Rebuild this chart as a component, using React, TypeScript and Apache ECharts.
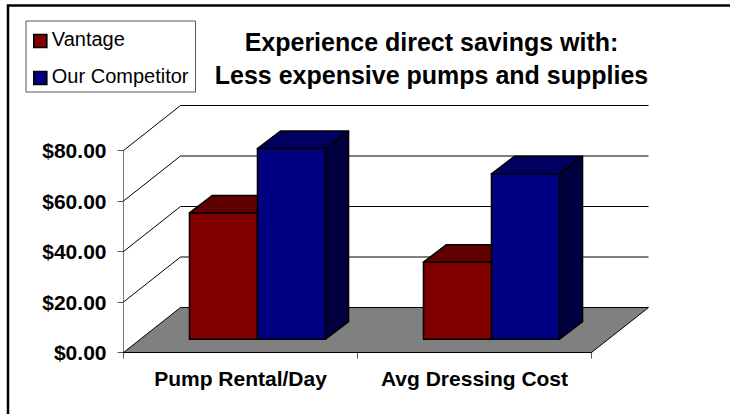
import React, { useEffect, useRef } from "react";
import * as echarts from "echarts";

const categories = ["Pump Rental/Day", "Avg Dressing Cost"];
const vantage = [50, 30.5];
const competitor = [75.5, 65.5];
const ticks = [0, 20, 40, 60, 80];
const titleLines = "Experience direct savings with:\nLess expensive pumps and supplies";

const WALL_DX = 57, WALL_DY = 45;
const BAR_OFF_DX = 17, BAR_OFF_DY = 13.3;
const BAR_DX = 23, BAR_DY = 17.5;
const BAR_W = 68;

function bar(seriesIndex: number, front: string, top: string, side: string) {
  return (params: any, api: any) => {
    const c = api.value(0);
    const v = api.value(1);
    const base = api.coord([c, 0]);
    const head = api.coord([c, v]);
    const x0 = base[0] + BAR_OFF_DX + (seriesIndex === 0 ? -BAR_W : 0);
    const x1 = x0 + BAR_W;
    const yb = base[1] - BAR_OFF_DY;
    const yt = head[1] - BAR_OFF_DY;
    const stroke = { stroke: "#000", lineWidth: 1.6, lineJoin: "round" };
    return {
      type: "group",
      children: [
        { type: "polygon", shape: { points: [[x0, yt], [x1, yt], [x1 + BAR_DX, yt - BAR_DY], [x0 + BAR_DX, yt - BAR_DY]] }, style: { fill: top, ...stroke } },
        { type: "polygon", shape: { points: [[x1, yt], [x1 + BAR_DX, yt - BAR_DY], [x1 + BAR_DX, yb - BAR_DY], [x1, yb]] }, style: { fill: side, ...stroke } },
        { type: "rect", shape: { x: x0, y: yt, width: BAR_W, height: yb - yt }, style: { fill: front, ...stroke } },
      ],
    };
  };
}

export default function App() {
  const ref = useRef<HTMLDivElement>(null);
  useEffect(() => {
    const chart = echarts.init(ref.current!, null, { renderer: "svg" });
    chart.setOption({
      animation: false,
      backgroundColor: "#fff",
      title: {
        text: titleLines,
        left: 426.5,
        top: 21,
        textAlign: "center",
        textStyle: { fontFamily: "Liberation Sans", fontWeight: "bold", fontSize: 25, lineHeight: 32.5, color: "#000" },
      },
      legend: {
        left: 26,
        top: 21,
        orient: "vertical",
        padding: [8, 7, 6, 7],
        itemGap: 17,
        itemWidth: 13,
        itemHeight: 13,
        backgroundColor: "#fff",
        borderColor: "#555",
        borderWidth: 1,
        borderRadius: 0,
        formatter: "{t|{name}}",
        textStyle: {
          fontFamily: "Liberation Sans",
          fontSize: 20,
          color: "#000",
          rich: { t: { fontFamily: "Liberation Sans", fontSize: 20, color: "#000", padding: [0, 0, 4, 0] } },
        },
        data: [
          { name: "Vantage", icon: "rect", itemStyle: { color: "#800000", borderColor: "#000", borderWidth: 1.6 } },
          { name: "Our Competitor", icon: "rect", itemStyle: { color: "#000080", borderColor: "#000", borderWidth: 1.6 } },
        ],
      },
      grid: { left: 123.5, top: 150.5, width: 468, height: 202 },
      xAxis: {
        type: "category",
        data: categories,
        axisTick: { show: true, alignWithLabel: false, length: 6, lineStyle: { color: "#555" } },
        axisLine: { lineStyle: { color: "#222", width: 1 } },
        axisLabel: { interval: 0, hideOverlap: false, fontFamily: "Liberation Sans", fontWeight: "bold", fontSize: 21, color: "#000", margin: 15 },
      },
      yAxis: {
        type: "value",
        min: 0,
        max: 80,
        interval: 20,
        splitLine: { show: false },
        axisTick: { show: true, length: 6, lineStyle: { color: "#555" } },
        axisLine: { show: true, lineStyle: { color: "#777", width: 1 } },
        axisLabel: {
          formatter: (v: number) => "$" + v.toFixed(2),
          fontFamily: "Liberation Sans", fontWeight: "bold", fontSize: 21, color: "#000", margin: 17,
        },
      },
      series: [
        {
          type: "custom",
          silent: true,
          z: 1,
          data: ticks.map((t) => [t]),
          renderItem: (params: any, api: any) => {
            const t = api.value(0);
            const s = api.size([1, 0]);
            const a = api.coord([0, t]);
            const left = a[0] - s[0] / 2;
            const right = left + s[0] * categories.length;
            const y = a[1];
            const children: any[] = [];
            if (t === 0) {
              children.push({
                type: "polygon",
                shape: { points: [[left, y], [right, y], [right + WALL_DX, y - WALL_DY], [left + WALL_DX, y - WALL_DY]] },
                style: { fill: "#808080", stroke: "#000", lineWidth: 1 },
              });
            } else {
              children.push({
                type: "polyline",
                shape: { points: [[left, y], [left + WALL_DX, y - WALL_DY], [right + WALL_DX, y - WALL_DY]] },
                style: { fill: "none", stroke: "#000", lineWidth: 1 },
              });
            }
            return { type: "group", children };
          },
        },
        {
          type: "custom",
          name: "Vantage",
          z: 2,
          itemStyle: { color: "#800000" },
          data: vantage.map((v, i) => [i, v]),
          encode: { x: 0, y: 1 },
          renderItem: bar(0, "#800000", "#600000", "#400000"),
        },
        {
          type: "custom",
          name: "Our Competitor",
          z: 3,
          itemStyle: { color: "#000080" },
          data: competitor.map((v, i) => [i, v]),
          encode: { x: 0, y: 1 },
          renderItem: bar(1, "#000080", "#000060", "#000040"),
        },
      ],
      graphic: [
        { type: "rect", z: 100, shape: { x: 8, y: 5.5, width: 800, height: 500 }, style: { fill: "none", stroke: "#000", lineWidth: 2.5 } },
      ],
    });
    return () => chart.dispose();
  }, []);
  return <div ref={ref} style={{ position: "fixed", left: 0, top: 0, width: 730, height: 414 }} />;
}
